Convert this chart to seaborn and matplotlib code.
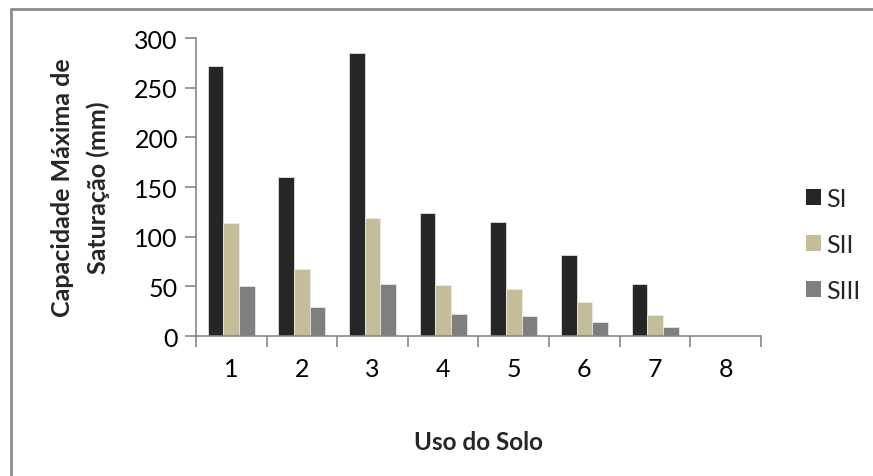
import matplotlib
matplotlib.use("Agg")
import matplotlib.pyplot as plt
import numpy as np
import pandas as pd
import seaborn as sns
from matplotlib.lines import Line2D
from matplotlib.patches import Patch

# Data
uso_do_solo = ["1", "2", "3", "4", "5", "6", "7", "8"]
si = [272, 160, 285, 124, 115, 82, 52, 0]
sii = [114, 67, 119, 51, 47, 34, 21, 0]
siii = [50, 29, 52, 22, 20, 14, 9, 0]
series_names = ["SI", "SII", "SIII"]
colors = ["#262626", "#C4BD97", "#7F7F7F"]

df = pd.DataFrame({"uso": uso_do_solo, "SI": si, "SII": sii, "SIII": siii})
long_df = df.melt(id_vars="uso", var_name="serie", value_name="valor")

sns.set_theme(style="white")
plt.rcParams["font.family"] = ["Lato", "DejaVu Sans"]
axis_gray = "#868686"

fig = plt.figure(figsize=(8.73, 4.77), dpi=100)
ax = fig.add_axes([0.2245, 0.2935, 0.6472, 0.6247])

sns.barplot(
    data=long_df,
    x="uso",
    y="valor",
    hue="serie",
    hue_order=series_names,
    palette=colors,
    width=0.667,
    saturation=1,
    edgecolor="#eeeeee",
    linewidth=0.5,
    legend=False,
    ax=ax,
)

ax.set_ylim(0, 300)
ax.set_xlim(-0.5, len(uso_do_solo) - 0.5)
ax.set_yticks(np.arange(0, 301, 50))
ax.tick_params(axis="y", labelsize=18, length=8, width=1.2, color=axis_gray,
               direction="out", left=True, pad=5, labelcolor="black")
ax.tick_params(axis="x", which="major", labelsize=18, length=0, pad=15, labelcolor="black")
ax.set_xticks(np.arange(-0.5, len(uso_do_solo), 1.0), minor=True)
ax.tick_params(axis="x", which="minor", length=8, width=1.2, color=axis_gray,
               direction="out", bottom=True)

for side in ["top", "right"]:
    ax.spines[side].set_visible(False)
for side in ["left", "bottom"]:
    ax.spines[side].set_color(axis_gray)
    ax.spines[side].set_linewidth(1.2)

ax.set_xlabel("Uso do Solo", fontsize=17.5, fontweight="bold", labelpad=36)
ax.set_ylabel("Capacidade Máxima de\nSaturação (mm)", fontsize=18,
              fontweight="bold", linespacing=1.65)
ax.yaxis.set_label_coords(-0.152, 0.5)

handles = [Patch(facecolor=c, edgecolor="none") for c in colors]
fig.legend(
    handles,
    series_names,
    loc="center left",
    bbox_to_anchor=(0.898, 0.485),
    frameon=False,
    fontsize=18,
    handlelength=0.6,
    handleheight=0.6,
    handletextpad=0.2,
    labelspacing=0.92,
)

# outer chart frame (top and left edges visible in the source)
fig.add_artist(Line2D([11 / 873, 1], [1 - 10 / 477, 1 - 10 / 477],
                      transform=fig.transFigure, color="#8c8c8c", linewidth=2))
fig.add_artist(Line2D([11 / 873, 11 / 873], [0, 1 - 10 / 477],
                      transform=fig.transFigure, color="#8c8c8c", linewidth=2))

fig.savefig("out.png", dpi=100)
